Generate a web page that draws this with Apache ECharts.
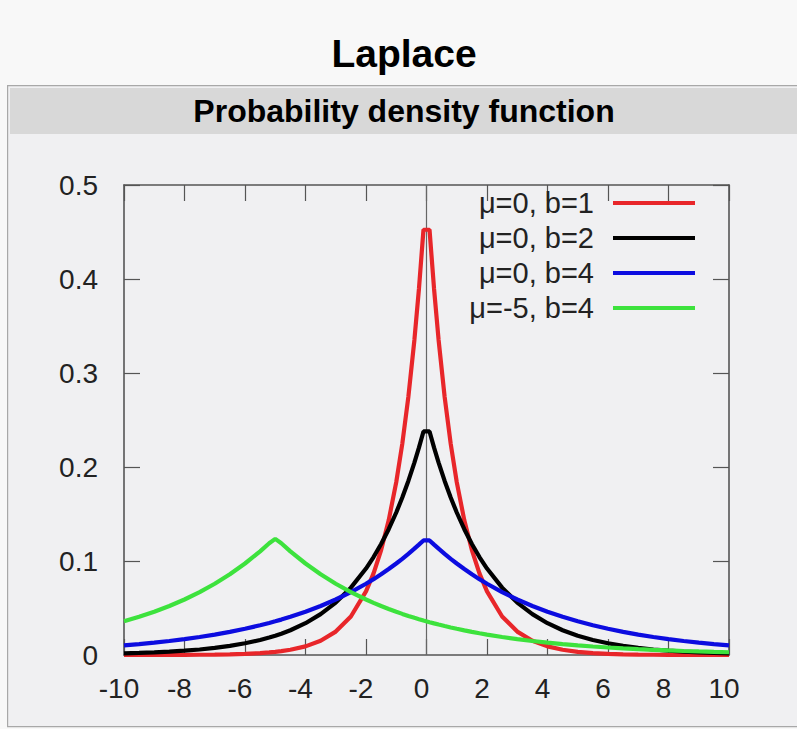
<!DOCTYPE html>
<html>
<head>
<meta charset="utf-8">
<script src="https://cdn.jsdelivr.net/npm/echarts@6/dist/echarts.min.js"></script>
<style>
html,body{margin:0;padding:0;background:#f8f8f8;}
#chart{width:797px;height:729px;}
</style>
</head>
<body>
<div id="chart"></div>
<script>
// x sample positions (shared by all curves)
var xs = [-10,-9.5,-9,-8.5,-8,-7.5,-7,-6.5,-6,-5.5,-5.2,-5,-4.8,-4.5,-4,-3.5,-3,-2.5,-2,-1.75,-1.5,-1.25,-1,-0.8,-0.6,-0.4,-0.25,-0.1,
          0.1,0.25,0.4,0.6,0.8,1,1.25,1.5,1.75,2,2.5,3,3.5,4,4.5,5,5.5,6,6.5,7,7.5,8,8.5,9,9.5,10];
// μ=0, b=1
var redY = [0.0000227,0.0000374,0.0000617,0.0001017,0.0001677,0.0002765,0.000456,0.000752,0.001239,0.002044,0.002759,0.003369,0.004115,0.005554,0.009158,0.0151,0.0249,0.0410,0.0677,0.0869,0.1116,0.1433,0.1839,0.2247,0.2744,0.3352,0.3894,0.4524,
            0.4524,0.3894,0.3352,0.2744,0.2247,0.1839,0.1433,0.1116,0.0869,0.0677,0.0410,0.0249,0.0151,0.009158,0.005554,0.003369,0.002044,0.001239,0.000752,0.000456,0.0002765,0.0001677,0.0001017,0.0000617,0.0000374,0.0000227];
// μ=0, b=2
var blackY = [0.00168,0.00216,0.00278,0.00357,0.00458,0.00588,0.00755,0.00969,0.01245,0.01598,0.01857,0.02052,0.02268,0.02635,0.03383,0.04345,0.05578,0.07163,0.09197,0.1042,0.1181,0.1338,0.1516,0.1676,0.1852,0.2047,0.2206,0.2378,
              0.2378,0.2206,0.2047,0.1852,0.1676,0.1516,0.1338,0.1181,0.1042,0.09197,0.07163,0.05578,0.04345,0.03383,0.02635,0.02052,0.01598,0.01245,0.00969,0.00755,0.00588,0.00458,0.00357,0.00278,0.00216,0.00168];
// μ=0, b=4
var blueY = [0.01026,0.01163,0.01318,0.01493,0.01692,0.01917,0.02172,0.02461,0.02789,0.0316,0.03407,0.03581,0.03765,0.04059,0.04599,0.05211,0.05905,0.06691,0.07582,0.0807,0.08591,0.09145,0.09735,0.1023,0.1076,0.1131,0.1174,0.1219,
             0.1219,0.1174,0.1131,0.1076,0.1023,0.09735,0.09145,0.08591,0.0807,0.07582,0.06691,0.05905,0.05211,0.04599,0.04059,0.03581,0.0316,0.02789,0.02461,0.02172,0.01917,0.01692,0.01493,0.01318,0.01163,0.01026];
// μ=-5, b=4
var greenY = [0.03581,0.04059,0.04599,0.05211,0.05905,0.06691,0.07582,0.08591,0.09735,0.1103,0.1189,0.1235,0.1189,0.1103,0.09735,0.08591,0.07582,0.06691,0.05905,0.05546,0.05211,0.04895,0.04599,0.04374,0.04161,0.03958,0.03813,0.03672,
              0.03492,0.03364,0.0324,0.03082,0.02932,0.02789,0.0262,0.02461,0.02312,0.02172,0.01917,0.01692,0.01493,0.01318,0.01163,0.01026,0.00906,0.00799,0.00705,0.00622,0.00549,0.00485,0.00428,0.00378,0.00333,0.00294];

var seriesNames = ['μ=0, b=1','μ=0, b=2','μ=0, b=4','μ=-5, b=4'];
var seriesColors = ['#e8262a','#000000','#0c0ce0','#3de23d'];
var seriesYs = [redY, blackY, blueY, greenY];
var xTicks = {min:-10, max:10, interval:2};
var yTicks = {min:0, max:0.5, interval:0.1};

var FONT = '"Liberation Sans", Arial, sans-serif';

function pairs(ys){ return xs.map(function(x,i){ return [x, ys[i]]; }); }

var series = seriesNames.map(function(n,i){
  var s = {
    name:n, type:'line', data:pairs(seriesYs[i]), showSymbol:false, symbol:'none',
    lineStyle:{color:seriesColors[i], width:4.2}, itemStyle:{color:seriesColors[i]},
    z: 3 + i, silent:true
  };
  if(i===0){
    s.markLine = {silent:true, symbol:['none','none'], label:{show:false},
      lineStyle:{color:'#666', width:1.2, type:'solid'}, data:[{xAxis:0}], z:1};
  }
  return s;
});

var chart = echarts.init(document.getElementById('chart'), null, {renderer:'svg'});
var axisCommon = {
  axisLine:{show:true, onZero:false, lineStyle:{color:'#555', width:1.6}},
  axisTick:{show:true, inside:true, length:16, lineStyle:{color:'#555', width:1.2}},
  splitLine:{show:false}
};
chart.setOption({
  animation:false,
  backgroundColor:'#f8f8f8',
  graphic:[
    {type:'rect', left:7, top:85, z:-10, shape:{width:800, height:641},
     style:{fill:'#f0f0f2', stroke:'#a8a8a8', lineWidth:1.2}},
    {type:'rect', left:10, top:88, z:-9, shape:{width:790, height:46},
     style:{fill:'#d8d8d8'}},
    {type:'text', x:404, y:53, z:5,
     style:{text:'Laplace', font:'bold 39px ' + FONT, fill:'#000', textAlign:'center', textVerticalAlign:'middle'}},
    {type:'text', x:404, y:111, z:5,
     style:{text:'Probability density function', font:'bold 32px ' + FONT, fill:'#000', textAlign:'center', textVerticalAlign:'middle'}}
  ],
  grid:{left:124, right:68, top:185, bottom:74, containLabel:false, show:false},
  legend:{
    orient:'vertical', right:102, top:188, padding:0, align:'right',
    itemWidth:82, itemHeight:4, itemGap:5, icon:'rect',
    data:seriesNames.map(function(n,i){ return {name:n, icon:'rect', itemStyle:{color:seriesColors[i]}}; }),
    textStyle:{fontFamily:FONT, fontSize:29, color:'#222', lineHeight:30, padding:[0,14,0,0]},
    selectedMode:false
  },
  xAxis:[
    Object.assign({type:'value', position:'bottom', min:xTicks.min, max:xTicks.max, interval:xTicks.interval,
      axisLabel:{fontFamily:FONT, fontSize:28, color:'#222', margin:19, padding:[0,10,0,0]}}, axisCommon),
    Object.assign({type:'value', position:'top', min:xTicks.min, max:xTicks.max, interval:xTicks.interval,
      axisLabel:{show:false}}, axisCommon)
  ],
  yAxis:[
    Object.assign({type:'value', position:'left', min:yTicks.min, max:yTicks.max, interval:yTicks.interval,
      axisLabel:{fontFamily:FONT, fontSize:28, color:'#222', margin:26,
        formatter:function(v){ return (Math.round(v*10)/10).toString(); }}}, axisCommon),
    Object.assign({type:'value', position:'right', min:yTicks.min, max:yTicks.max, interval:yTicks.interval,
      axisLabel:{show:false}}, axisCommon)
  ],
  series:series
});
</script>
</body>
</html>
